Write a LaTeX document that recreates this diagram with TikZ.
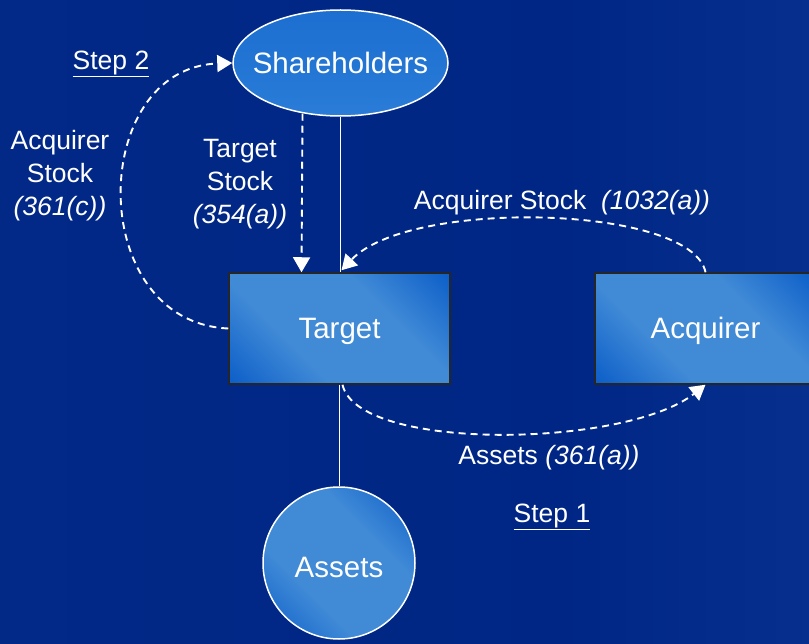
\documentclass[tikz,border=0pt]{standalone}
\usepackage{fontspec}
\setmainfont{Liberation Sans}
\usetikzlibrary{arrows.meta,shapes.geometric,calc}
\definecolor{ellfill}{RGB}{28,110,208}
\definecolor{ellfill2}{RGB}{42,124,216}
\pgfdeclarehorizontalshading{bgshade}{100bp}{
  rgb(0bp)=(0.04,0.19,0.57);
  rgb(25bp)=(0.01,0.16,0.53);
  rgb(60bp)=(0.0,0.15,0.52);
  rgb(85bp)=(0.04,0.21,0.58);
  rgb(100bp)=(0.11,0.29,0.65)}
\pgfdeclarehorizontalshading{boxshade}{100bp}{
  rgb(0bp)=(0.06,0.38,0.79);
  rgb(16bp)=(0.06,0.38,0.79);
  rgb(36bp)=(0.25,0.54,0.84);
  rgb(64bp)=(0.25,0.54,0.84);
  rgb(84bp)=(0.06,0.38,0.79);
  rgb(100bp)=(0.06,0.38,0.79)}
\begin{document}
\begin{tikzpicture}[x=1pt,y=-1pt,
  lbl/.style={text=white,font=\fontsize{26.5}{33}\selectfont,align=center},
  ntext/.style={text=white,font=\fontsize{29.5}{32}\selectfont,text height=21pt,text depth=0pt},
  boxnode/.style={rectangle,draw=black!85,line width=1.5pt,minimum width=221pt,minimum height=111pt,inner sep=0pt,
     shading=boxshade,shading angle=45,ntext},
  flow/.style={white,line width=1.9pt,dash pattern=on 7pt off 5pt,-{Triangle[length=15pt,width=17pt]}},
  link/.style={white,line width=1.5pt}]
\useasboundingbox (0,0) rectangle (809,644);
\shade[shading=bgshade] (0,0) rectangle (809,644);

\node[ellipse,draw=white,line width=1.5pt,minimum width=215pt,minimum height=106pt,inner sep=0pt,
  top color=ellfill,bottom color=ellfill2,ntext] (sh) at (340.5,63) {\makebox[0pt]{Shareholders}};
\node[boxnode] (tg) at (339.5,328.5) {Target};
\node[boxnode] (ac) at (705.5,328.5) {Acquirer};
\node[circle,draw=white,line width=1.5pt,minimum size=152pt,inner sep=0pt,
  shading=boxshade,shading angle=45,ntext,text height=28pt] (as) at (339,563) {Assets};

% connectors
\draw[link] (sh.south) -- (sh.south |- tg.north);
\draw[link] (tg.south) -- (tg.south |- as.north);
\draw[flow] ($(sh.south)+(-38,-3)$) -- ($(tg.north)+(-38,0)$);
\draw[flow] (tg.west) .. controls (85,322) and (88,68) .. (sh.west);
\draw[flow] (ac.north) .. controls (692,205) and (410,198) .. ($(tg.north)+(2,-2)$);
\draw[flow] ($(tg.south)+(3,0)$) .. controls (358,452) and (625,448) .. (ac.south);

% labels
\node[lbl] (l1) at (111,64) {\underline{Step 2}};
\node[lbl] (l2) at (60,176) {Acquirer\\Stock\\\textit{(361(c))}};
\node[lbl] (l3) at (240,184) {Target\\Stock\\\textit{(354(a))}};
\node[lbl] (l4) at (562,203) {Acquirer Stock \ \textit{(1032(a))}};
\node[lbl] (l5) at (549,458) {Assets \textit{(361(a))}};
\node[lbl] (l6) at (552,517) {\underline{Step 1}};
\end{tikzpicture}
\end{document}
